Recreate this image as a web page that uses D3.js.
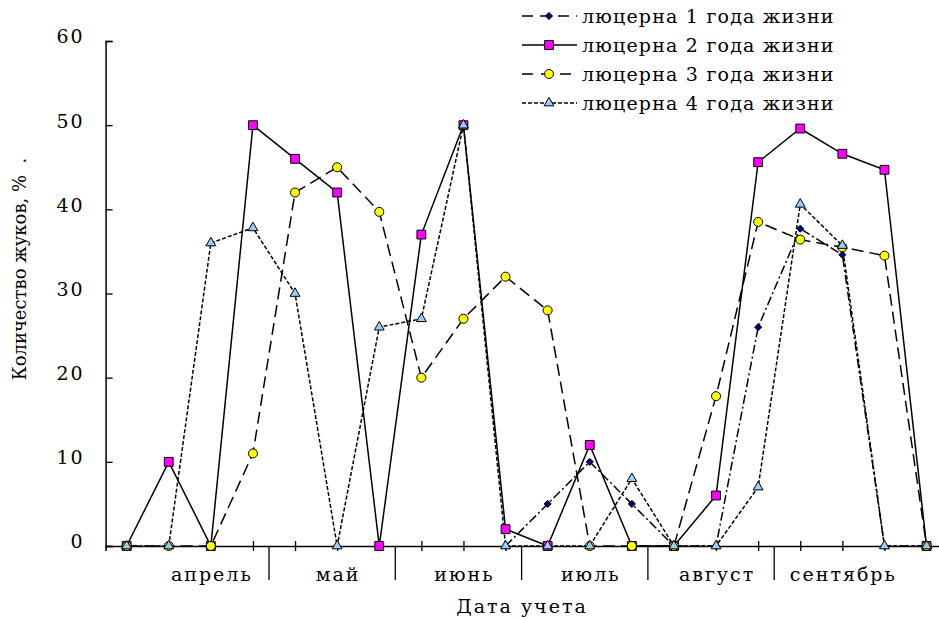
<!DOCTYPE html>
<html>
<head>
<meta charset="utf-8">
<script src="https://cdn.jsdelivr.net/npm/d3@7"></script>
<style>
  html, body { margin: 0; padding: 0; background: #fff; }
  svg { display: block; font-family: 'DejaVu Serif', 'Liberation Serif', serif; }
</style>
</head>
<body>
<div id="chart"></div>
<script>
// observation dates (20 counts), grouped by month, 3 per month
const observations = d3.range(20)
const months = ['апрель', 'май', 'июнь', 'июль', 'август', 'сентябрь']
const monthFirst = [1, 4, 7, 10, 13, 16]
const yTicks = [0, 10, 20, 30, 40, 50, 60]

// first-year lucerne has no counts before July
const lucerne1 = [null, null, null, null, null, null, null, null, null, 0, 5, 10, 5, 0, 0, 26, 37.7, 34.6, 0, 0]
const lucerne2 = [0, 10, 0, 50, 46, 42, 0, 37, 50, 2, 0, 12, 0, 0, 6, 45.6, 49.6, 46.6, 44.7, 0]
const lucerne3 = [0, 0, 0, 11, 42, 45, 39.7, 20, 27, 32, 28, 0, 0, 0, 17.8, 38.5, 36.4, 35.5, 34.5, 0]
const lucerne4 = [0, 0, 36, 37.8, 30, 0, 26, 27, 50, 0, 0, 0, 8, 0, 0, 7, 40.6, 35.7, 0, 0]

const seriesNames = ['люцерна 1 года жизни', 'люцерна 2 года жизни', 'люцерна 3 года жизни', 'люцерна 4 года жизни']

const series = [
  { name: seriesNames[0], values: lucerne1, dash: '9,3,2,3', legendDash: '11,7', marker: 'diamond', fill: '#000080' },
  { name: seriesNames[1], values: lucerne2, dash: null, legendDash: null, marker: 'square', fill: '#ff00ff' },
  { name: seriesNames[2], values: lucerne3, dash: '12,6', legendDash: '11,8', marker: 'circle', fill: '#ffff00' },
  { name: seriesNames[3], values: lucerne4, dash: '4,2', legendDash: '4,2', marker: 'triangle', fill: '#99ccff' }
]

const width = 939
const height = 620

const svg = d3.select('#chart')
  .append('svg')
  .attr('width', width)
  .attr('height', height)

const x = d3.scalePoint()
  .domain(observations)
  .range([105.6, 947.6])
  .padding(0.5)

const y = d3.scaleLinear()
  .domain([0, 60])
  .range([546, 41])

const step = x.step()

// y axis
const yAxis = svg.append('g')
  .attr('transform', `translate(${x.range()[0]},0)`)
  .call(d3.axisLeft(y).tickValues(yTicks).tickSize(-7).tickPadding(21))

yAxis.select('.domain').attr('stroke', '#000').attr('stroke-width', 1.5)
yAxis.selectAll('.tick line').attr('stroke', '#000').attr('stroke-width', 1.3)
yAxis.selectAll('.tick text')
  .attr('font-family', 'DejaVu Serif')
  .attr('font-size', 19)
  .attr('letter-spacing', 2)
  .attr('fill', '#000')
  .attr('dy', '0.1em')

// x axis with cross ticks
const xAxis = svg.append('g')
  .attr('transform', `translate(0,${y(0)})`)
  .call(d3.axisBottom(x).tickSize(5).tickFormat(''))

xAxis.select('.domain').attr('stroke', '#000').attr('stroke-width', 1.5)
xAxis.selectAll('.tick line').attr('y1', -5).attr('stroke', '#000').attr('stroke-width', 1.3)

// month separators
svg.append('g')
  .selectAll('line')
  .data(monthFirst.slice(1))
  .join('line')
  .attr('x1', d => x(d) - step / 2 - 5)
  .attr('x2', d => x(d) - step / 2 - 5)
  .attr('y1', y(0))
  .attr('y2', y(0) + 34)
  .attr('stroke', '#000')
  .attr('stroke-width', 1.3)

svg.append('g')
  .selectAll('text')
  .data(months)
  .join('text')
  .attr('x', (d, i) => x(monthFirst[i] + 1) + 1)
  .attr('y', 581)
  .attr('text-anchor', 'middle')
  .attr('font-size', 19)
  .attr('letter-spacing', 2)
  .text(d => d)

// axis titles
svg.append('text')
  .attr('x', 522)
  .attr('y', 613)
  .attr('text-anchor', 'middle')
  .attr('font-size', 19)
  .attr('letter-spacing', 2)
  .text('Дата учета')

svg.append('text')
  .attr('transform', 'translate(26,269) rotate(-90)')
  .attr('text-anchor', 'middle')
  .attr('font-size', 18)
  .text('Количество жуков, %\u00a0\u00a0.')

// markers
const symbolFor = {
  diamond: d3.symbol().type(d3.symbolDiamond2).size(32),
  square: d3.symbol().type(d3.symbolSquare).size(78),
  circle: d3.symbol().type(d3.symbolCircle).size(64),
  triangle: d3.symbol().type(d3.symbolTriangle).size(42)
}

const line = d3.line()
  .defined(d => d !== null)
  .x((d, i) => x(observations[i]))
  .y(d => y(d))

const plot = svg.append('g')

series.forEach(s => {
  plot.append('path')
    .datum(s.values)
    .attr('fill', 'none')
    .attr('stroke', '#000')
    .attr('stroke-width', 1.5)
    .attr('stroke-dasharray', s.dash)
    .attr('d', line)
})

series.forEach(s => {
  plot.append('g')
    .selectAll('path')
    .data(s.values.map((v, i) => ({ v, i })).filter(d => d.v !== null))
    .join('path')
    .attr('transform', d => `translate(${x(observations[d.i])},${y(d.v)})`)
    .attr('d', symbolFor[s.marker]())
    .attr('fill', s.fill)
    .attr('stroke', '#000')
    .attr('stroke-width', 1)
})

// legend
const legend = svg.append('g')
  .selectAll('g')
  .data(series)
  .join('g')
  .attr('transform', (d, i) => `translate(522,${16 + i * 29})`)

legend.append('line')
  .attr('x1', 0)
  .attr('x2', 55)
  .attr('stroke', '#000')
  .attr('stroke-width', 1.5)
  .attr('stroke-dasharray', d => d.legendDash)

legend.append('path')
  .attr('transform', 'translate(27,0)')
  .attr('d', d => symbolFor[d.marker]())
  .attr('fill', d => d.fill)
  .attr('stroke', '#000')
  .attr('stroke-width', 1)

legend.append('text')
  .attr('x', 60)
  .attr('dy', '0.35em')
  .attr('font-size', 19)
  .attr('letter-spacing', 1.2)
  .text(d => d.name)
</script>
</body>
</html>
